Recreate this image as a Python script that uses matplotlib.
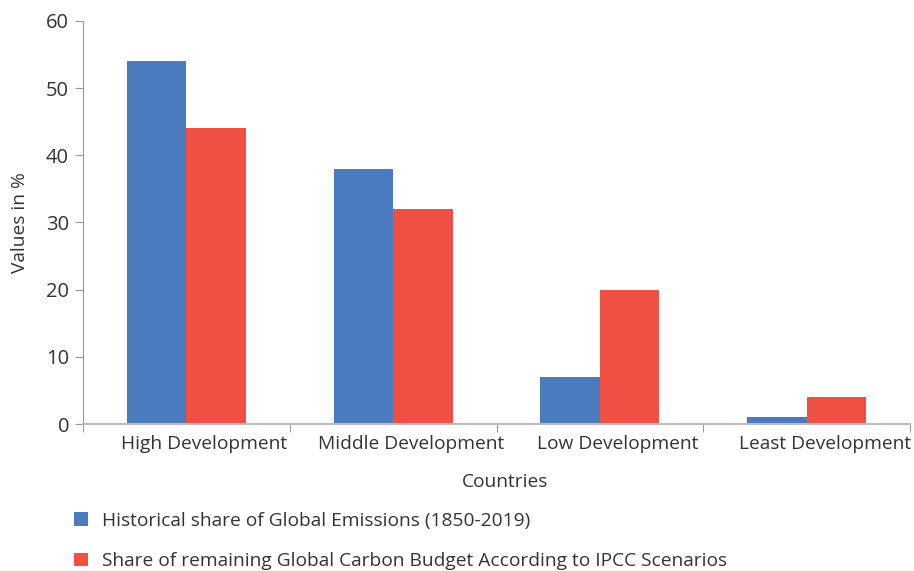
import matplotlib.pyplot as plt
import matplotlib.transforms as mtransforms
import numpy as np

plt.rcParams['font.family'] = ['Open Sans', 'DejaVu Sans']

categories = ["High Development", "Middle Development", "Low Development", "Least Development"]
historical = [54, 38, 7, 1]
remaining = [44, 32, 20, 4]
series_names = ["Historical share of Global Emissions (1850-2019)",
                "Share of remaining Global Carbon Budget According to IPCC Scenarios"]

blue = "#4a7bbf"
red = "#ef5043"
grey = "#999999"
text_col = "#333333"

fig = plt.figure(figsize=(9.14, 5.71), dpi=100)
ax = fig.add_axes([83/914, 147/571, 827/914, 403/571])

x = np.arange(len(categories))
w = 0.288
b1 = ax.bar(x - w/2, historical, w, color=blue, label=series_names[0])
b2 = ax.bar(x + w/2, remaining, w, color=red, label=series_names[1])

ax.set_xlim(-0.5, len(categories) - 0.5)
ax.set_ylim(0, 60)
ax.set_yticks([0, 10, 20, 30, 40, 50, 60])

# ticks at the category boundaries, labels in between
ax.set_xticks(np.arange(len(categories) + 1) - 0.5)
ax.set_xticklabels([])
ax.set_xticks(x, minor=True)
ax.set_xticklabels(categories, minor=True)
ax.tick_params(axis='x', which='minor', length=0, pad=8, labelsize=13.8, labelcolor=text_col)
offset = mtransforms.ScaledTranslation(18/100, 0, fig.dpi_scale_trans)
for lbl in ax.get_xticklabels(minor=True):
    lbl.set_transform(lbl.get_transform() + offset)
ax.tick_params(axis='x', which='major', length=6, color=grey, direction='out')
ax.tick_params(axis='y', length=6, color=grey, labelsize=14.5, labelcolor=text_col, pad=4)

for s in ['top', 'right']:
    ax.spines[s].set_visible(False)
ax.spines['left'].set_color(grey)
ax.spines['bottom'].set_color("#bbbbbb")
ax.spines['bottom'].set_linewidth(1.5)

ax.set_xlabel("Countries", fontsize=13.8, color=text_col, labelpad=14)
ax.xaxis.label.set_position((0.51, 0))
ax.set_ylabel("Values in %", fontsize=13.8, color=text_col, labelpad=12)

fig.legend(handles=[b1, b2], loc='upper left', bbox_to_anchor=(74/914, 1 - 512/571),
           frameon=False, fontsize=13.8, labelcolor=text_col, borderpad=0, borderaxespad=0,
           handlelength=0.72, handleheight=0.72, handletextpad=0.75, labelspacing=1.15)

fig.savefig("out.png", dpi=100)
